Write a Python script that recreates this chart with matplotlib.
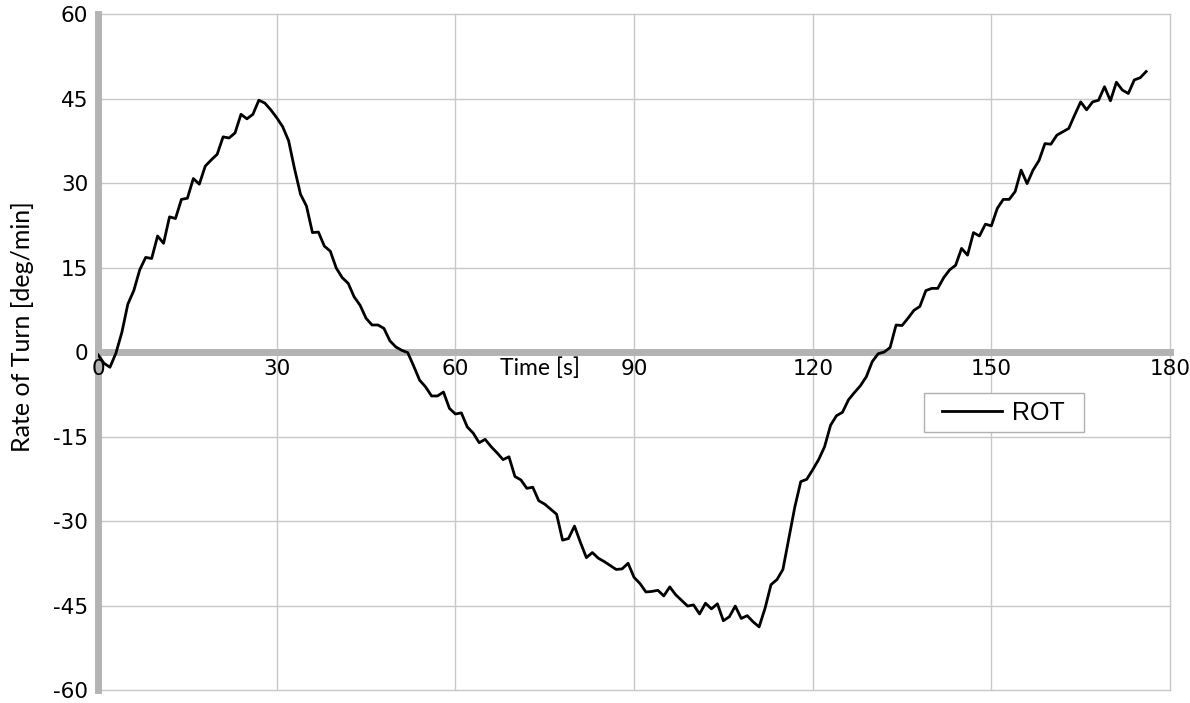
import numpy as np
import matplotlib
matplotlib.use("Agg")
from matplotlib import pyplot as plt
from matplotlib.patches import Rectangle

plt.rcParams['axes.unicode_minus'] = False

# Rate of turn samples, one per second (deg/min)
rot = [
    -0.5, -2.0, -2.7, -0.2, 3.5, 8.5, 10.9, 14.6, 16.8, 16.6,
    20.6, 19.3, 24.0, 23.7, 27.1, 27.3, 30.8, 29.8, 33.0, 34.1,
    35.1, 38.2, 38.0, 38.9, 42.2, 41.4, 42.2, 44.7, 44.2, 43.0,
    41.6, 40.0, 37.5, 32.5, 28.0, 25.9, 21.2, 21.3, 18.8, 17.9,
    14.9, 13.2, 12.2, 9.8, 8.3, 6.0, 4.8, 4.8, 4.2, 2.0,
    0.9, 0.3, -0.1, -2.5, -5.0, -6.2, -7.8, -7.8, -7.1, -10.0,
    -11.0, -10.8, -13.3, -14.4, -16.1, -15.5, -16.8, -17.9, -19.1, -18.6,
    -22.1, -22.7, -24.2, -24.0, -26.4, -27.0, -27.9, -28.8, -33.4, -33.1,
    -30.9, -33.8, -36.5, -35.6, -36.6, -37.2, -37.9, -38.6, -38.5, -37.5,
    -40.0, -41.1, -42.6, -42.5, -42.3, -43.3, -41.7, -43.1, -44.1, -45.1,
    -44.9, -46.5, -44.6, -45.6, -44.7, -47.7, -47.0, -45.1, -47.3, -46.8,
    -47.9, -48.8, -45.5, -41.3, -40.4, -38.6, -33.0, -27.5, -23.0, -22.6,
    -20.9, -19.1, -16.8, -13.0, -11.3, -10.7, -8.5, -7.2, -6.0, -4.4,
    -1.7, -0.3, 0.0, 0.8, 4.8, 4.7, 6.0, 7.4, 8.1, 10.9,
    11.3, 11.3, 13.2, 14.6, 15.4, 18.4, 17.2, 21.2, 20.6, 22.7,
    22.4, 25.5, 27.1, 27.1, 28.5, 32.3, 29.9, 32.3, 34.0, 37.0,
    36.9, 38.5, 39.1, 39.7, 42.1, 44.4, 43.0, 44.4, 44.7, 47.1,
    44.6, 47.9, 46.5, 45.9, 48.3, 48.7, 49.8,
]
time_s = np.arange(len(rot))  # sampled every second

x_ticks = [0, 30, 60, 90, 120, 150, 180]
y_ticks = [-60, -45, -30, -15, 0, 15, 30, 45, 60]

axis_grey = '#b3b3b3'
grid_grey = '#c8c8c8'

fig = plt.figure(figsize=(11.9, 7.03), dpi=100)
ax = fig.add_axes([0.0824, 0.0185, 0.9008, 0.9615])

ax.plot(time_s, rot, color='black', linewidth=2, label='ROT', zorder=3)

ax.set_xlim(0, 180)
ax.set_ylim(-60, 60)
ax.set_xticks(x_ticks)
ax.set_yticks(y_ticks)
ax.set_axisbelow(True)

# grid by hand, skipping the zero lines where the thick axes sit
for xv in x_ticks:
    if xv != 0:
        ax.axvline(xv, color=grid_grey, linewidth=1, zorder=0.3, clip_on=False)
for yv in y_ticks:
    if yv != 0:
        ax.axhline(yv, color=grid_grey, linewidth=1, zorder=0.3, clip_on=False)

# thick grey axes through the origin, kept under the tick labels
ax.spines['top'].set_visible(False)
ax.spines['right'].set_visible(False)
ax.spines['bottom'].set_position(('data', 0))
for side in ['bottom', 'left']:
    ax.spines[side].set_color(axis_grey)
    ax.spines[side].set_linewidth(5)
    ax.spines[side].set_zorder(0.4)

ax.tick_params(axis='both', length=0, labelsize=15.5, colors='black')
ax.tick_params(axis='x', pad=5)
ax.tick_params(axis='y', pad=7)

ax.text(0.412, 0.476, 'Time [s]', transform=ax.transAxes, ha='center', va='center',
        fontsize=16.5, family='Lato')
fig.text(0.019, 0.535, 'Rate of Turn [deg/min]', rotation=90, ha='center', va='center',
         fontsize=18, family='Lato')

# legend box drawn separately so its padding matches
ax.add_patch(Rectangle((0.7705, 0.3817), 0.1493, 0.0576, transform=ax.transAxes,
                       facecolor='white', edgecolor='#b0b0b0', linewidth=1, zorder=4))
leg = ax.legend(loc='center', bbox_to_anchor=(0.845, 0.4105), frameon=False,
                prop={'family': 'Liberation Sans', 'size': 18}, handlelength=2.4,
                borderpad=0.3, handletextpad=0.4, borderaxespad=0)
leg.set_zorder(5)
leg.get_lines()[0].set_linewidth(2)

plt.savefig('out.png', dpi=100)
plt.close()
